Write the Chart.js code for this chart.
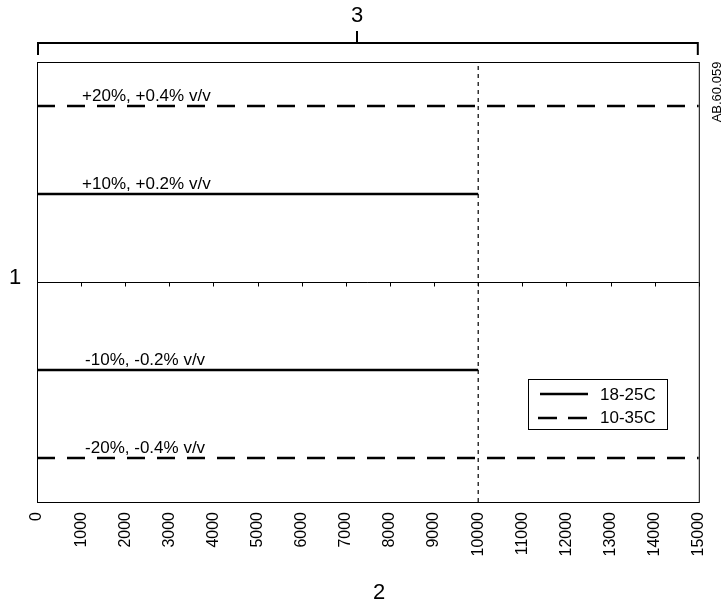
<!DOCTYPE html>
<html>
<head>
<meta charset="utf-8">
<script src="https://cdn.jsdelivr.net/npm/chart.js@4.4.1/dist/chart.umd.min.js"></script>
<style>
  html, body { margin: 0; padding: 0; background: #fff; }
  #wrap { width: 728px; height: 607px; position: relative; }
</style>
</head>
<body>
<div id="wrap"><canvas id="chart" width="728" height="607"></canvas></div>
<script>
// Data
const xTicks = [0, 1000, 2000, 3000, 4000, 5000, 6000, 7000, 8000, 9000, 10000, 11000, 12000, 13000, 14000, 15000];
const seriesNames = ["18-25C", "10-35C"];
const narrowLimits = [10, -10];   // 18-25C, up to 10000
const wideLimits = [20, -20];     // 10-35C, up to 15000
const narrowEnd = 10000;
const wideEnd = 15000;
const limitLabels = ["+20%, +0.4% v/v", "+10%, +0.2% v/v", "-10%, -0.2% v/v", "-20%, -0.4% v/v"];
const limitValues = [20, 10, -10, -20];
const yRange = [-25, 25];

const FONT = "'Liberation Sans', Arial, sans-serif";
const DASH = [18, 12];

function seg(y, end) {
  return [{ x: 0, y: y }, { x: end, y: y }];
}

const datasets = [];
narrowLimits.forEach((v) => {
  datasets.push({
    label: seriesNames[0],
    data: seg(v, narrowEnd),
    borderColor: "#000",
    borderWidth: 2.5,
    pointRadius: 0,
    fill: false,
  });
});
wideLimits.forEach((v) => {
  datasets.push({
    label: seriesNames[1],
    data: seg(v, wideEnd),
    borderColor: "#000",
    borderWidth: 2.5,
    borderDash: DASH,
    borderCapStyle: "butt",
    pointRadius: 0,
    fill: false,
  });
});
// vertical marker at the end of the 18-25C range
datasets.push({
  label: "marker",
  data: [{ x: narrowEnd, y: yRange[0] }, { x: narrowEnd, y: yRange[1] }],
  borderColor: "#000",
  borderWidth: 1.2,
  borderDash: [4, 4],
  pointRadius: 0,
  fill: false,
});

const extras = {
  id: "extras",
  afterDatasetsDraw(chart) {
    const { ctx, chartArea: a, scales } = chart;
    const xs = scales.x, ys = scales.y;
    ctx.save();

    // frame
    ctx.strokeStyle = "#000";
    ctx.lineWidth = 1;
    ctx.strokeRect(a.left + 0.5, a.top + 0.5, a.right - a.left, a.bottom - a.top);

    // zero line with ticks
    const y0 = Math.round(ys.getPixelForValue(0)) + 0.5;
    ctx.beginPath();
    ctx.moveTo(a.left, y0);
    ctx.lineTo(a.right, y0);
    xTicks.forEach((t) => {
      const px = Math.round(xs.getPixelForValue(t)) + 0.5;
      ctx.moveTo(px, y0);
      ctx.lineTo(px, y0 + 4);
    });
    ctx.stroke();

    // limit labels
    ctx.fillStyle = "#000";
    ctx.font = "17px " + FONT;
    ctx.textAlign = "left";
    ctx.textBaseline = "alphabetic";
    limitValues.forEach((v, i) => {
      const px = xs.getPixelForValue(1000) + (v < 0 ? 4 : 1);
      const py = ys.getPixelForValue(v) - 5;
      ctx.fillText(limitLabels[i], px, py);
    });

    // bracket on top
    ctx.lineWidth = 2;
    ctx.beginPath();
    ctx.moveTo(a.left + 1, a.top - 7);
    ctx.lineTo(a.left + 1, a.top - 19);
    ctx.lineTo(a.right - 1, a.top - 19);
    ctx.lineTo(a.right - 1, a.top - 7);
    const mid = 357;
    ctx.moveTo(mid, a.top - 19);
    ctx.lineTo(mid, a.top - 31);
    ctx.stroke();

    ctx.font = "22px " + FONT;
    ctx.textAlign = "center";
    ctx.textBaseline = "middle";
    ctx.fillText("3", mid, 16);
    ctx.fillText("1", 15, y0 - 5);
    ctx.fillText("2", 379, 593);

    // side code
    ctx.save();
    ctx.translate(717, 92);
    ctx.rotate(-Math.PI / 2);
    ctx.font = "13px " + FONT;
    ctx.fillText("AB.60.059", 0, 0);
    ctx.restore();

    // legend
    const lx = 528, ly = 379, lw = 139, lh = 50;
    ctx.fillStyle = "#fff";
    ctx.fillRect(lx, ly, lw, lh);
    ctx.lineWidth = 1;
    ctx.strokeRect(lx + 0.5, ly + 0.5, lw, lh);
    ctx.lineWidth = 2.5;
    ctx.beginPath();
    ctx.moveTo(lx + 12, ly + 15);
    ctx.lineTo(lx + 60, ly + 15);
    ctx.stroke();
    ctx.setLineDash([19, 11]);
    ctx.beginPath();
    ctx.moveTo(lx + 10, ly + 39);
    ctx.lineTo(lx + 60, ly + 39);
    ctx.stroke();
    ctx.setLineDash([]);
    ctx.fillStyle = "#000";
    ctx.font = "17px " + FONT;
    ctx.textAlign = "left";
    ctx.fillText(seriesNames[0], lx + 72, ly + 16);
    ctx.fillText(seriesNames[1], lx + 72, ly + 39);

    ctx.restore();
  },
};

new Chart(document.getElementById("chart").getContext("2d"), {
  type: "line",
  data: { datasets: datasets },
  options: {
    responsive: false,
    animation: false,
    layout: { padding: { top: 62, right: 29, left: 0, bottom: 0 } },
    plugins: { legend: { display: false }, tooltip: { enabled: false } },
    scales: {
      x: {
        type: "linear",
        min: xTicks[0],
        max: xTicks[xTicks.length - 1],
        afterBuildTicks: (s) => { s.ticks = xTicks.map((v) => ({ value: v })); },
        afterFit: (s) => { s.height = 105; },
        grid: { display: false, drawTicks: false },
        border: { display: false },
        ticks: {
          minRotation: 90,
          maxRotation: 90,
          autoSkip: false,
          padding: 10,
          color: "#000",
          font: { family: FONT, size: 16 },
          callback: (v) => String(v),
        },
      },
      y: {
        min: yRange[0],
        max: yRange[1],
        afterFit: (s) => { s.width = 37; },
        grid: { display: false, drawTicks: false },
        border: { display: false },
        ticks: { display: false },
      },
    },
  },
  plugins: [extras],
});
</script>
</body>
</html>
